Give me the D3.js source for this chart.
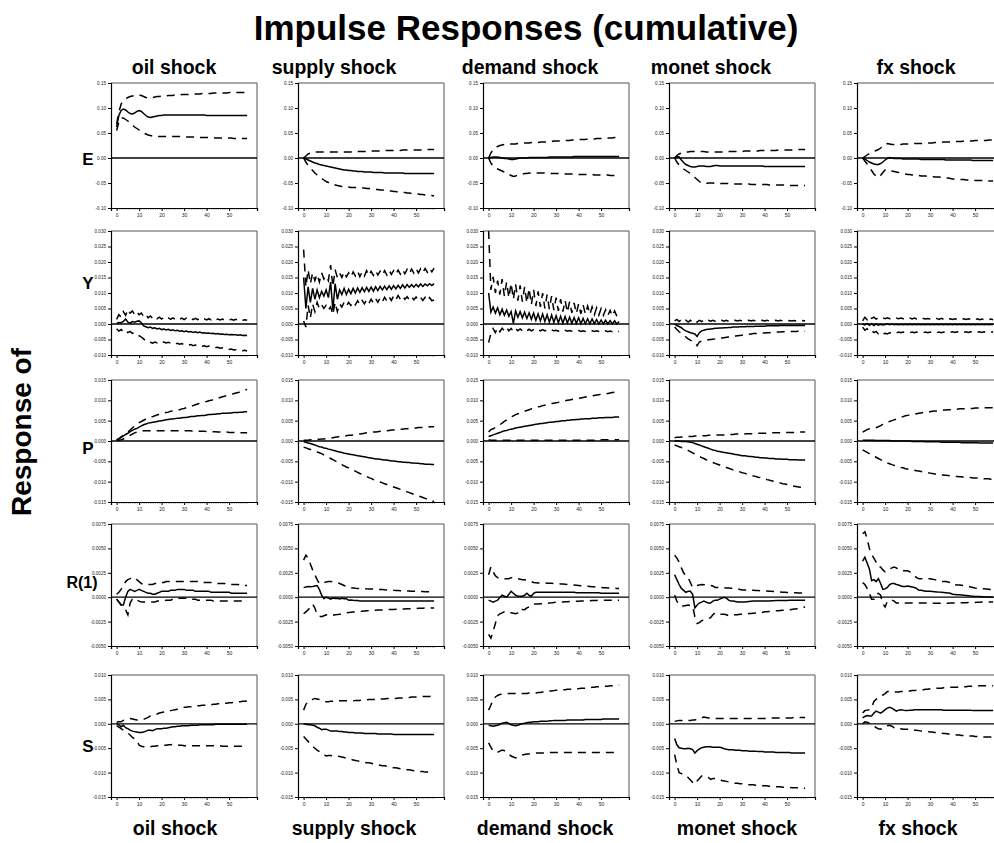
<!DOCTYPE html>
<html><head><meta charset="utf-8">
<script src="https://cdn.jsdelivr.net/npm/d3@7"></script>
<style>body{margin:0;background:#fff}</style>
</head><body>
<svg id="chart" width="994" height="843"></svg>
<script>
// ---------------- DATA ----------------
const shocks = ["oil shock","supply shock","demand shock","monet shock","fx shock"];
const variables = ["E","Y","P","R(1)","S"];
const title = "Impulse Responses (cumulative)";
const sideTitle = "Response of";
const xTickLabels = [0,10,20,30,40,50];
const yTicksE = [-0.10,-0.05,0.00,0.05,0.10,0.15];
const yTicksY = [-0.010,-0.005,0.000,0.005,0.010,0.015,0.020,0.025,0.030];
const yTicksP = [-0.015,-0.010,-0.005,0.000,0.005,0.010,0.015];
const yTicksR = [-0.0050,-0.0025,0.0000,0.0025,0.0050,0.0075];
const yTicksS = [-0.015,-0.010,-0.005,0.000,0.005,0.010];
// unit in which each row's series below are written
const rowUnit = [1e-3, 1e-4, 1e-4, 1e-5, 1e-4];

// Row E (x 0.001)
const E_oil_est = [62,85,95,98,96,92,89,88,90,93, 95,93,89,85,82,81,82,83,84,85, 85,86,86,86,86,86,86,86,86,86, 86,86,86,86,86,86,86,86,86,86, 85,85,85,85,85,85,85,85,85,85, 85,85,85,85,85,85,85,85,85];
const E_oil_hi = [68,92,108,114,118,121,123,124,125,126, 126,125,123,121,120,120,121,122,123,123, 124,124,124,125,125,125,126,126,126,127, 127,127,127,128,128,128,128,128,129,129, 129,129,129,130,130,130,130,130,130,130, 131,131,131,131,131,131,131,131,131];
const E_oil_lo = [55,72,80,80,77,74,70,66,62,59, 56,53,50,48,46,45,44,44,43,43, 43,43,43,43,43,43,43,43,43,42, 42,42,42,42,42,42,42,41,41,41, 41,41,41,41,40,40,40,40,40,40, 40,40,39,39,39,39,39,39,39];
const E_sup_est = [0,-2,-4,-6,-8,-10,-11,-13,-14,-15, -16,-17,-18,-19,-20,-21,-22,-23,-24,-24, -25,-25,-26,-26,-27,-27,-27,-28,-28,-28, -28,-29,-29,-29,-29,-29,-30,-30,-30,-30, -30,-30,-30,-30,-30,-31,-31,-31,-31,-31, -31,-31,-31,-31,-31,-31,-31,-31,-31];
const E_sup_hi = [0,4,8,10,11,12,12,12,12,12, 12,12,12,12,12,12,12,12,12,12, 12,12,13,13,13,13,13,13,13,14, 14,14,14,14,14,15,15,15,15,15, 15,15,15,15,16,16,16,16,16,16, 16,16,16,17,17,17,17,17,17];
const E_sup_lo = [0,-8,-15,-20,-25,-30,-34,-37,-41,-44, -47,-49,-51,-53,-54,-55,-56,-57,-57,-58, -58,-59,-59,-59,-59,-59,-60,-60,-61,-61, -62,-62,-63,-63,-64,-64,-65,-65,-66,-66, -67,-67,-68,-68,-69,-69,-70,-70,-71,-71, -72,-72,-73,-73,-74,-74,-75,-75,-76];
const E_dem_est = [0,1,2,2,2,1,0,-1,-1,-2, -3,-3,-2,-1,0,0,0,0,1,1, 1,1,1,1,1,1,1,2,2,2, 2,2,2,2,2,2,2,2,3,3, 3,3,3,3,3,3,3,3,3,3, 3,3,3,3,3,3,3,3,3];
const E_dem_hi = [0,10,17,21,23,25,26,27,27,28, 28,28,28,29,29,29,30,30,30,31, 31,31,31,32,32,32,33,33,33,34, 34,34,34,35,35,35,35,36,36,36, 37,37,37,37,38,38,38,38,39,39, 39,39,40,40,40,40,41,41,41];
const E_dem_lo = [0,-10,-16,-20,-22,-24,-26,-28,-30,-33, -35,-37,-36,-34,-33,-32,-31,-31,-30,-30, -30,-30,-30,-30,-30,-30,-31,-31,-31,-31, -31,-31,-31,-32,-32,-32,-32,-32,-32,-32, -33,-33,-33,-33,-33,-33,-33,-34,-34,-34, -34,-34,-34,-34,-35,-35,-35,-35,-35];
const E_mon_est = [0,3,2,-4,-9,-13,-15,-17,-18,-18, -17,-16,-16,-16,-17,-17,-17,-16,-15,-15, -16,-16,-16,-16,-16,-16,-16,-16,-16,-16, -16,-16,-16,-16,-16,-16,-16,-16,-16,-16, -17,-17,-17,-17,-17,-17,-17,-17,-17,-17, -17,-17,-17,-17,-17,-17,-17,-17,-17];
const E_mon_hi = [0,5,8,10,11,12,12,13,13,13, 13,13,13,13,12,12,12,12,12,12, 12,12,12,12,13,13,13,13,13,13, 13,14,14,14,14,14,14,14,15,15, 15,15,15,15,15,15,16,16,16,16, 16,16,16,16,17,17,17,17,17];
const E_mon_lo = [0,-8,-14,-18,-22,-25,-28,-31,-35,-39, -43,-47,-50,-51,-51,-50,-50,-50,-51,-51, -51,-51,-51,-51,-51,-52,-52,-52,-52,-52, -52,-52,-52,-52,-53,-53,-53,-53,-53,-53, -53,-53,-54,-54,-54,-54,-54,-54,-54,-54, -55,-55,-55,-55,-55,-55,-55,-55,-55];
const E_fx_est = [0,-2,-5,-8,-10,-12,-13,-13,-11,-8, -4,-1,1,0,-1,-1,-1,-1,-2,-2, -2,-2,-2,-2,-2,-2,-3,-3,-3,-3, -3,-3,-3,-3,-3,-3,-3,-4,-4,-4, -4,-4,-4,-4,-4,-4,-4,-4,-4,-5, -5,-5,-5,-5,-5,-5,-5,-5,-5];
const E_fx_hi = [0,3,6,9,11,13,15,17,20,24, 28,29,28,27,27,27,27,27,28,28, 28,28,28,29,29,29,29,29,30,30, 30,30,31,31,31,31,32,32,32,32, 33,33,33,33,33,34,34,34,34,34, 35,35,35,35,35,35,36,36,36];
const E_fx_lo = [0,-6,-12,-18,-25,-32,-36,-39,-35,-29, -24,-23,-25,-26,-27,-28,-29,-30,-31,-32, -33,-33,-34,-34,-35,-35,-36,-36,-36,-37, -37,-37,-38,-38,-38,-39,-39,-40,-40,-41, -42,-42,-42,-43,-43,-43,-44,-44,-44,-44, -45,-45,-45,-45,-45,-46,-46,-46,-46];

// Row Y (x 0.0001)
const Y_oil_est = [2,5,4,8,16,6,3,8,6,9, 10,4,-6,-9,-12,-10,-14,-12,-16,-14, -18,-16,-19,-17,-21,-19,-22,-20,-23,-22, -25,-23,-26,-24,-27,-25,-28,-26,-29,-28, -30,-29,-31,-30,-32,-31,-33,-32,-34,-33, -35,-34,-35,-35,-36,-35,-37,-36,-37];
const Y_oil_hi = [15,30,22,40,28,47,35,42,30,39, 30,35,25,32,20,26,18,24,17,22, 16,21,16,20,15,20,15,19,15,19, 14,19,14,18,14,18,14,18,14,17, 13,17,13,17,13,16,13,16,13,16, 13,15,12,15,12,15,12,14,12];
const Y_oil_lo = [-15,-23,-18,-25,-20,-28,-24,-30,-28,-35, -38,-42,-48,-56,-60,-59,-62,-58,-61,-57, -60,-58,-61,-59,-62,-60,-64,-62,-65,-63, -67,-65,-68,-66,-70,-68,-71,-69,-72,-70, -73,-71,-74,-73,-76,-75,-78,-77,-80,-79, -82,-81,-84,-83,-85,-84,-86,-85,-87];
const Y_sup_est = [150,50,120,70,115,80,110,85,105,90, 110,85,135,45,130,80,110,95,115,95, 112,98,115,100,116,102,117,104,118,105, 119,106,120,108,121,110,122,111,123,112, 124,113,125,115,126,116,127,118,127,119, 128,120,129,121,129,123,130,124,130];
const Y_sup_hi = [240,120,175,130,165,140,160,135,165,145, 155,140,190,120,175,150,165,150,168,152, 165,152,168,155,170,153,168,155,172,156, 170,157,172,158,170,158,172,158,173,160, 172,160,174,161,175,162,176,163,177,164, 178,165,178,166,179,167,180,168,180];
const Y_sup_lo = [10,-10,60,20,65,40,70,50,62,50, 60,45,55,30,70,40,65,55,70,58, 70,60,72,62,75,63,76,65,78,66, 80,68,82,70,84,72,86,74,88,76, 90,78,92,80,90,80,88,78,88,78, 87,77,86,76,86,75,85,75,78];
const Y_dem_est = [100,38,55,35,52,30,48,28,45,25, 40,2,42,22,40,20,38,18,36,15, 35,12,33,10,32,8,30,6,29,5, 27,4,25,3,24,3,22,2,21,2, 20,1,18,1,17,1,16,1,14,0, 13,0,12,0,11,0,10,0,8];
const Y_dem_hi = [300,110,152,100,140,95,145,90,135,85, 132,80,128,75,125,72,120,68,115,62, 110,58,105,55,100,50,95,48,90,45, 85,42,80,40,76,38,72,36,68,34, 65,33,62,32,58,31,55,30,52,29, 50,28,46,27,44,26,42,25,33];
const Y_dem_lo = [-60,-30,-15,-28,-12,-25,-14,-22,-12,-22, -14,-24,-15,-22,-16,-22,-17,-22,-17,-22, -18,-22,-18,-22,-18,-22,-19,-22,-19,-22, -20,-23,-20,-23,-20,-23,-21,-23,-21,-23, -21,-24,-22,-24,-22,-24,-22,-24,-22,-24, -22,-25,-22,-25,-23,-25,-23,-25,-24];
const Y_mon_est = [0,-5,-8,-12,-18,-22,-25,-28,-30,-32, -40,-28,-22,-20,-18,-17,-16,-15,-14,-14, -13,-13,-12,-12,-11,-11,-10,-10,-10,-9, -9,-9,-8,-8,-8,-8,-7,-7,-7,-7, -7,-6,-6,-6,-6,-6,-6,-5,-5,-5, -5,-5,-5,-5,-5,-5,-5,-5,-5];
const Y_mon_hi = [10,15,8,14,7,12,6,12,5,10, 6,12,8,13,9,12,9,12,9,12, 9,12,9,12,9,12,10,12,10,12, 10,12,10,12,10,12,10,12,10,12, 10,12,10,12,10,12,10,12,10,12, 10,11,10,11,10,11,10,11,10];
const Y_mon_lo = [-10,-18,-25,-30,-36,-42,-48,-52,-56,-60, -70,-58,-55,-53,-52,-51,-50,-49,-48,-47, -46,-45,-44,-43,-42,-41,-40,-39,-38,-37, -36,-35,-34,-33,-32,-31,-31,-30,-30,-29, -29,-28,-28,-27,-27,-26,-26,-26,-25,-25, -25,-24,-24,-24,-24,-23,-23,-23,-23];
const Y_fx_est = [0,-3,2,-4,1,-5,0,-4,-1,-3, -2,1,-2,0,-2,-1,-2,-1,-2,-1, -2,-1,-2,-1,-2,-1,-2,-1,-2,-1, -2,-1,-2,-1,-2,-1,-2,-1,-2,-1, -2,-1,-2,-1,-2,-1,-2,-1,-2,-1, -2,-1,-2,-1,-2,-1,-2,-1,-2];
const Y_fx_hi = [10,22,14,25,18,22,16,20,17,20, 17,20,17,19,17,19,17,19,17,19, 16,19,16,19,16,19,16,18,16,18, 16,18,16,18,15,18,15,18,15,17, 15,17,15,17,15,17,15,17,15,17, 14,17,14,16,14,16,14,16,14];
const Y_fx_lo = [-10,-20,-15,-24,-20,-28,-24,-32,-28,-33, -30,-32,-28,-30,-27,-29,-26,-28,-26,-28, -26,-28,-26,-28,-26,-28,-26,-28,-26,-28, -26,-28,-26,-28,-26,-28,-26,-28,-26,-27, -25,-27,-25,-27,-25,-27,-25,-27,-25,-27, -25,-27,-25,-27,-25,-27,-25,-27,-25];

// Row P (x 0.0001)
const P_oil_est = [2,5,9,12,16,19,23,26,29,31, 34,37,40,42,44,45,46,47,48,49, 50,51,52,53,54,54,55,56,56,57, 58,58,59,60,60,61,62,62,63,63, 64,65,65,66,66,67,67,68,68,68, 69,69,70,70,70,71,71,72,72];
const P_oil_hi = [3,6,10,14,18,22,27,32,37,41, 45,48,51,54,56,58,60,62,64,66, 67,69,70,71,73,74,75,76,77,79, 80,82,84,85,87,89,91,93,94,96, 97,99,100,102,104,105,107,109,110,112, 113,115,116,118,119,121,123,125,127];
const P_oil_lo = [1,2,3,5,8,11,14,17,20,22, 23,24,25,25,25,25,25,25,25,25, 25,25,25,25,25,25,25,25,25,25, 25,25,25,25,24,24,24,24,24,24, 23,23,23,23,23,22,22,22,22,22, 21,21,21,21,21,20,20,20,20];
const P_sup_est = [-2,-3,-5,-6,-8,-10,-12,-14,-15,-17, -18,-20,-21,-23,-24,-26,-27,-28,-30,-31, -32,-33,-34,-35,-36,-37,-38,-39,-40,-41, -42,-43,-44,-44,-45,-46,-47,-47,-48,-49, -49,-50,-51,-51,-52,-52,-53,-53,-54,-54, -55,-55,-56,-56,-57,-57,-57,-58,-58];
const P_sup_hi = [2,2,2,3,3,3,4,4,5,5, 6,7,7,8,9,10,11,11,12,13, 14,14,15,16,17,17,18,19,20,20, 21,22,22,23,24,24,25,25,26,27, 27,28,28,29,29,30,30,31,31,32, 32,33,33,33,34,34,35,35,35];
const P_sup_lo = [-15,-17,-19,-21,-23,-25,-27,-29,-31,-34, -37,-40,-43,-46,-49,-52,-55,-58,-61,-64, -66,-69,-72,-74,-77,-80,-82,-85,-87,-90, -92,-95,-97,-99,-101,-103,-105,-107,-109,-111, -113,-115,-117,-119,-121,-123,-125,-127,-129,-131, -133,-135,-137,-139,-141,-143,-145,-147,-149];
const P_dem_est = [11,13,15,17,19,21,23,25,26,28, 29,30,32,33,34,35,36,37,38,39, 40,41,42,43,43,44,45,46,46,47, 48,48,49,50,50,51,51,52,52,53, 53,54,54,55,55,55,56,56,56,57, 57,57,58,58,58,58,59,59,59];
const P_dem_hi = [22,28,30,33,36,40,44,48,52,56, 59,62,65,67,69,71,73,75,77,79, 81,82,84,85,87,88,89,91,92,93, 94,95,97,98,99,100,101,102,103,104, 105,106,107,108,109,110,111,112,113,114, 115,115,116,117,118,119,120,121,122];
const P_dem_lo = [3,2,2,2,2,2,2,2,2,2, 2,2,2,2,2,2,2,2,2,2, 2,2,2,2,2,2,2,2,2,2, 2,2,2,2,2,2,2,2,2,2, 2,2,2,2,2,2,2,2,3,3, 3,3,3,3,3,3,3,3,3];
const P_mon_est = [0,0,0,-1,-1,-1,-2,-3,-4,-6, -8,-10,-12,-14,-16,-18,-20,-22,-23,-25, -26,-27,-28,-29,-30,-31,-32,-33,-34,-35, -36,-36,-37,-38,-38,-39,-40,-40,-41,-41, -42,-42,-43,-43,-43,-44,-44,-44,-45,-45, -45,-46,-46,-46,-46,-47,-47,-47,-47];
const P_mon_hi = [8,9,9,10,10,10,11,11,11,12, 12,12,13,13,13,14,14,14,14,15, 15,15,15,16,16,16,16,17,17,17, 17,17,18,18,18,18,18,19,19,19, 19,19,20,20,20,20,20,20,21,21, 21,21,21,21,22,22,22,22,22];
const P_mon_lo = [-10,-12,-14,-16,-18,-20,-23,-26,-29,-32, -35,-38,-41,-43,-46,-48,-50,-53,-55,-57, -59,-61,-63,-65,-67,-69,-71,-72,-74,-76, -78,-79,-81,-83,-84,-86,-87,-89,-90,-92, -93,-95,-96,-98,-99,-101,-102,-103,-105,-106, -107,-109,-110,-111,-112,-113,-114,-115,-116];
const P_fx_est = [2,2,2,2,2,2,1,1,1,1, 1,1,1,0,0,0,0,0,0,0, 0,0,-1,-1,-1,-1,-1,-1,-2,-2, -2,-2,-2,-2,-2,-3,-3,-3,-3,-3, -3,-3,-3,-3,-4,-4,-4,-4,-4,-4, -4,-4,-5,-5,-5,-5,-5,-5,-5];
const P_fx_hi = [22,25,28,30,31,32,33,35,38,41, 44,46,48,50,52,54,56,58,60,62, 63,64,65,66,67,68,69,70,71,72, 72,73,74,74,75,75,76,76,77,77, 78,78,78,79,79,79,80,80,80,80, 81,81,81,81,82,82,82,82,82];
const P_fx_lo = [-22,-25,-28,-31,-34,-37,-40,-43,-46,-49, -52,-54,-56,-58,-60,-62,-63,-65,-66,-68, -69,-70,-71,-72,-73,-74,-75,-76,-77,-78, -79,-80,-81,-81,-82,-83,-84,-84,-85,-86, -86,-87,-87,-88,-88,-89,-89,-90,-90,-91, -91,-91,-92,-92,-93,-93,-93,-94,-94];

// Row R(1) (x 0.00001)
const R_oil_est = [-20,-50,-80,-80,0,60,80,70,60,70, 80,70,60,50,40,40,30,30,40,50, 60,60,60,60,70,70,70,80,80,80, 80,70,70,70,70,60,60,60,60,60, 60,60,50,50,50,50,50,50,50,50, 50,40,40,40,40,40,40,40,40];
const R_oil_hi = [30,50,80,120,160,180,190,200,200,180, 160,140,130,130,130,130,130,140,140,150, 150,150,160,160,160,160,160,160,160,160, 160,160,160,160,160,160,160,150,150,150, 150,150,150,150,140,140,140,140,140,130, 130,130,130,130,130,120,120,120,120];
const R_oil_lo = [-20,-50,-80,-110,-130,-180,-60,-20,-10,-30, -40,-50,-50,-50,-50,-50,-50,-50,-40,-40, -40,-40,-30,-30,-30,-20,-20,-20,-10,-10, -10,-10,-20,-20,-20,-20,-30,-30,-30,-30, -30,-30,-30,-40,-40,-40,-40,-40,-40,-40, -40,-40,-40,-40,-40,-40,-40,-40,-40];
const R_sup_est = [98,105,110,108,110,115,120,80,20,-15, 0,-10,-20,-8,-12,-10,-18,-12,-15,-15, -30,-28,-32,-35,-35,-38,-38,-40,-40,-40, -40,-40,-40,-40,-40,-40,-40,-40,-40,-40, -40,-40,-40,-40,-40,-40,-40,-40,-40,-40, -40,-40,-39,-39,-39,-38,-38,-38,-38];
const R_sup_hi = [380,430,400,340,280,230,180,140,145,150, 155,160,160,158,155,150,140,130,120,110, 100,98,95,92,90,90,88,88,86,85, 85,83,82,80,79,78,76,75,74,72, 70,69,68,67,66,65,64,63,62,61, 60,60,59,58,57,57,56,55,55];
const R_sup_lo = [-170,-150,-130,-100,-70,-110,-180,-195,-200,-190, -180,-185,-190,-185,-180,-178,-175,-170,-165,-160, -158,-155,-152,-150,-148,-146,-144,-142,-140,-138, -136,-134,-133,-132,-131,-130,-129,-128,-127,-126, -125,-124,-123,-122,-121,-120,-119,-118,-117,-116, -115,-114,-113,-112,-111,-111,-110,-110,-110];
const R_dem_est = [-30,-40,-50,-40,-30,0,20,10,0,30, 60,40,20,10,10,10,20,40,20,10, 40,50,50,50,50,50,50,50,50,50, 50,50,50,50,50,50,50,50,50,45, 45,45,45,45,45,45,45,45,45,45, 40,40,40,40,40,40,40,40,40];
const R_dem_hi = [230,310,260,220,200,190,190,190,190,190, 200,200,195,190,185,180,178,175,170,160, 150,148,146,145,145,145,144,143,142,140, 140,138,136,134,132,130,128,126,124,122, 120,118,116,114,112,110,108,106,104,102, 100,98,96,94,93,92,91,90,90];
const R_dem_lo = [-380,-420,-350,-270,-190,-170,-160,-150,-150,-160, -160,-165,-170,-160,-120,-125,-128,-110,-100,-90, -70,-70,-70,-68,-66,-65,-62,-60,-58,-55, -50,-50,-49,-48,-47,-46,-45,-44,-43,-42, -41,-40,-39,-38,-37,-36,-35,-34,-33,-32, -32,-31,-31,-30,-30,-30,-30,-30,-30];
const R_mon_est = [230,180,130,90,70,50,60,60,30,-110, -80,-60,-50,-40,-50,-60,-60,-40,-30,-30, -20,-10,0,-10,-30,-40,-40,-45,-50,-50, -50,-48,-46,-44,-42,-40,-40,-40,-40,-40, -40,-38,-38,-36,-36,-35,-35,-34,-34,-33, -33,-32,-32,-31,-31,-30,-30,-30,-30];
const R_mon_hi = [430,400,360,300,250,220,200,150,100,110, 120,125,130,128,125,122,120,115,100,100, 100,98,96,95,94,92,90,88,85,80, 75,74,73,72,71,70,69,68,67,66, 65,63,61,60,58,56,55,53,51,50, 49,48,47,46,45,44,43,42,40];
const R_mon_lo = [20,-40,-80,-90,-90,-85,-80,-85,-90,-200, -270,-260,-240,-235,-230,-220,-210,-180,-160,-170, -175,-175,-175,-180,-190,-190,-185,-180,-180,-175, -175,-172,-170,-168,-166,-164,-162,-160,-158,-156, -150,-148,-146,-144,-142,-140,-138,-136,-134,-132, -130,-128,-125,-122,-120,-115,-110,-105,-100];
const R_fx_est = [370,410,350,290,170,180,160,190,140,80, 85,100,130,140,140,130,125,115,110,110, 115,110,105,100,90,70,70,65,60,60, 60,58,56,54,52,50,48,46,44,40, 30,28,26,24,22,20,18,15,12,10, 8,7,6,5,4,3,3,3,3];
const R_fx_hi = [650,670,600,500,440,400,360,310,310,280, 260,270,290,300,310,300,280,275,270,270, 270,260,240,220,200,190,190,190,190,190, 190,185,180,175,170,160,160,160,155,150, 130,128,126,124,122,120,115,110,105,100, 95,92,90,88,86,84,82,80,80];
const R_fx_lo = [150,130,90,40,-20,-20,30,40,20,-70, -100,-40,-30,-30,-40,-60,-60,-50,-55,-60, -60,-60,-60,-60,-60,-60,-60,-60,-60,-60, -62,-62,-62,-62,-62,-62,-62,-62,-62,-60, -60,-60,-60,-60,-58,-58,-58,-55,-55,-55, -55,-52,-52,-50,-50,-50,-50,-50,-50];

// Row S (x 0.0001)
const S_oil_est = [0,-2,-6,-3,-8,-10,-13,-15,-16,-17, -18,-18,-17,-15,-13,-13,-14,-12,-10,-10, -10,-9,-9,-8,-7,-6,-6,-5,-5,-4, -4,-4,-4,-3,-3,-3,-3,-2,-2,-2, -2,-2,-2,-2,-1,-1,-1,-1,-1,-1, -1,-1,-1,-1,-1,-1,-1,-1,-1];
const S_oil_hi = [3,4,4,7,9,10,11,10,9,8, 8,8,9,11,13,16,18,19,20,22, 23,24,25,26,27,28,29,30,31,32, 34,34,35,35,36,36,37,37,38,38, 38,39,39,40,40,41,41,41,42,42, 43,43,44,44,45,45,46,46,47];
const S_oil_lo = [-4,-7,-10,-13,-16,-19,-23,-28,-31,-34, -44,-46,-47,-47,-47,-47,-46,-46,-45,-45, -44,-44,-44,-43,-43,-42,-43,-43,-44,-44, -45,-45,-45,-45,-45,-45,-45,-45,-45,-45, -45,-45,-45,-45,-45,-45,-45,-46,-46,-46, -46,-46,-46,-46,-46,-46,-46,-46,-46];
const S_sup_est = [0,-1,-2,-2,-3,-4,-7,-9,-12,-11, -11,-13,-15,-15,-15,-15,-16,-16,-17,-17, -18,-18,-18,-19,-19,-19,-19,-20,-20,-20, -20,-20,-20,-21,-21,-21,-21,-21,-21,-21, -22,-22,-22,-22,-22,-22,-22,-22,-22,-22, -22,-22,-22,-22,-22,-22,-22,-22,-22];
const S_sup_hi = [28,40,45,48,50,52,51,50,49,47, 45,45,46,46,46,47,47,47,47,47, 47,47,47,48,48,48,49,49,49,50, 50,50,50,51,51,51,51,52,52,52, 52,52,53,53,53,54,54,54,55,55, 55,55,55,56,56,56,56,57,57];
const S_sup_lo = [-26,-31,-36,-41,-46,-50,-54,-57,-61,-63, -66,-65,-65,-66,-66,-66,-67,-68,-69,-71, -72,-73,-74,-75,-76,-77,-78,-79,-80,-80, -81,-82,-83,-84,-85,-86,-86,-87,-88,-89, -90,-90,-91,-92,-92,-93,-94,-94,-95,-96, -97,-97,-98,-98,-99,-99,-100,-100,-100];
const S_dem_est = [-3,-4,-5,-4,-3,-1,1,2,3,1, -2,-3,-4,-3,-1,0,1,2,3,3, 4,4,4,5,5,5,5,6,6,7, 7,7,7,7,7,8,8,8,8,8, 8,8,8,9,9,9,9,9,9,9, 9,10,10,10,10,10,10,10,10];
const S_dem_hi = [28,38,50,55,58,60,61,62,62,62, 62,62,62,62,62,62,62,62,63,63, 63,63,64,64,65,65,66,67,67,68, 69,69,70,70,70,71,71,71,72,72, 72,73,73,73,74,74,75,75,76,76, 76,77,77,77,78,78,78,79,79];
const S_dem_lo = [-39,-48,-56,-57,-58,-56,-54,-55,-57,-62, -66,-68,-70,-68,-66,-64,-63,-62,-62,-61, -61,-60,-60,-60,-60,-60,-59,-59,-59,-59, -59,-59,-59,-59,-59,-59,-59,-59,-59,-59, -59,-59,-59,-59,-59,-59,-59,-59,-59,-59, -59,-59,-59,-59,-59,-59,-59,-59,-59];
const S_mon_est = [-30,-43,-49,-50,-51,-51,-50,-51,-53,-60, -55,-52,-49,-48,-47,-47,-47,-48,-48,-48, -48,-49,-51,-52,-53,-53,-53,-54,-54,-54, -55,-55,-55,-56,-56,-56,-56,-57,-57,-57, -58,-58,-58,-58,-58,-59,-59,-59,-59,-59, -59,-59,-60,-60,-60,-60,-60,-60,-60];
const S_mon_hi = [5,6,7,7,6,6,7,7,8,8, 9,10,12,14,13,12,12,11,11,11, 11,11,11,11,11,11,11,11,11,11, 11,11,11,11,11,11,11,11,11,11, 11,11,11,12,12,12,12,12,12,12, 12,12,12,13,13,13,13,13,13];
const S_mon_lo = [-63,-84,-100,-102,-104,-107,-110,-115,-120,-124, -117,-112,-107,-107,-107,-110,-114,-112,-112,-113, -114,-116,-117,-118,-119,-120,-121,-122,-122,-123, -123,-124,-124,-125,-125,-125,-126,-126,-126,-127, -127,-127,-128,-128,-128,-129,-129,-129,-130,-130, -130,-130,-131,-131,-131,-131,-132,-132,-132];
const S_fx_est = [12,15,17,16,16,22,26,24,22,25, 29,32,34,32,29,26,28,29,28,27, 27,28,28,29,29,29,29,29,29,29, 29,29,29,29,29,29,28,28,28,28, 28,28,28,28,28,28,28,28,28,27, 27,27,27,27,27,27,27,27,27];
const S_fx_hi = [22,27,28,29,32,46,50,54,57,59, 62,66,66,65,65,65,65,66,66,67, 67,67,68,68,69,69,70,70,71,71, 72,72,72,73,73,73,74,74,74,75, 75,75,75,76,76,76,76,77,77,77, 77,77,78,78,78,78,78,78,78];
const S_fx_lo = [0,4,3,1,0,-4,-8,-10,-11,-9, -6,-4,-3,-5,-8,-9,-10,-10,-11,-11, -11,-12,-12,-13,-13,-14,-15,-15,-16,-16, -17,-17,-18,-18,-19,-19,-20,-20,-21,-21, -22,-22,-23,-23,-24,-24,-24,-25,-25,-25, -26,-26,-26,-26,-27,-27,-27,-27,-27];

// ---------------- ASSEMBLY ----------------
const rowTicks = [yTicksE, yTicksY, yTicksP, yTicksR, yTicksS];
const rowFormat = [".2f", ".3f", ".3f", ".4f", ".3f"];
const panels = [
  [[E_oil_est,E_oil_lo,E_oil_hi],[E_sup_est,E_sup_lo,E_sup_hi],[E_dem_est,E_dem_lo,E_dem_hi],[E_mon_est,E_mon_lo,E_mon_hi],[E_fx_est,E_fx_lo,E_fx_hi]],
  [[Y_oil_est,Y_oil_lo,Y_oil_hi],[Y_sup_est,Y_sup_lo,Y_sup_hi],[Y_dem_est,Y_dem_lo,Y_dem_hi],[Y_mon_est,Y_mon_lo,Y_mon_hi],[Y_fx_est,Y_fx_lo,Y_fx_hi]],
  [[P_oil_est,P_oil_lo,P_oil_hi],[P_sup_est,P_sup_lo,P_sup_hi],[P_dem_est,P_dem_lo,P_dem_hi],[P_mon_est,P_mon_lo,P_mon_hi],[P_fx_est,P_fx_lo,P_fx_hi]],
  [[R_oil_est,R_oil_lo,R_oil_hi],[R_sup_est,R_sup_lo,R_sup_hi],[R_dem_est,R_dem_lo,R_dem_hi],[R_mon_est,R_mon_lo,R_mon_hi],[R_fx_est,R_fx_lo,R_fx_hi]],
  [[S_oil_est,S_oil_lo,S_oil_hi],[S_sup_est,S_sup_lo,S_sup_hi],[S_dem_est,S_dem_lo,S_dem_hi],[S_mon_est,S_mon_lo,S_mon_hi],[S_fx_est,S_fx_lo,S_fx_hi]]
];

// ---------------- LAYOUT ----------------
const FONT = "'Liberation Sans', Arial, Helvetica, sans-serif";
const colLeft = [111, 298, 483, 669, 857];
const panelW = 146;
const rowTop = [83, 231, 380, 524, 675];
const rowH = [125, 124, 122, 122, 122];
const xDomain = [-2.5, 62.4];
const topHeaderX = [174, 334, 530, 711, 916];
const botHeaderX = [175, 354, 545, 737, 918];
const rowLabelX = [88, 88, 88, 82, 88];
const rowLabelY = [165, 289, 454, 588, 752];

const svg = d3.select("#chart").style("font-family", FONT);
svg.append("rect").attr("width", 994).attr("height", 843).attr("fill", "#fff");

svg.append("text").attr("x", 526).attr("y", 40).attr("text-anchor", "middle")
  .attr("font-size", 35).attr("font-weight", "bold").text(title);

svg.append("text").attr("transform", "translate(31,432) rotate(-90)")
  .attr("text-anchor", "middle").attr("font-size", 28).attr("font-weight", "bold").text(sideTitle);

shocks.forEach((s, c) => {
  svg.append("text").attr("x", topHeaderX[c]).attr("y", 74).attr("text-anchor", "middle")
    .attr("font-size", 19.5).attr("font-weight", "bold").text(s);
  svg.append("text").attr("x", botHeaderX[c]).attr("y", 835).attr("text-anchor", "middle")
    .attr("font-size", 19.5).attr("font-weight", "bold").text(s);
});
variables.forEach((v, r) => {
  svg.append("text").attr("x", rowLabelX[r]).attr("y", rowLabelY[r]).attr("text-anchor", "middle")
    .attr("font-size", r === 3 ? 16 : 17).attr("font-weight", "bold").text(v);
});

const defs = svg.append("defs");

panels.forEach((row, r) => {
  row.forEach((series, c) => {
    const x0 = colLeft[c], y0 = rowTop[r], h = rowH[r];
    const ticks = rowTicks[r];
    const x = d3.scaleLinear().domain(xDomain).range([x0, x0 + panelW]);
    const y = d3.scaleLinear().domain([ticks[0], ticks[ticks.length - 1]]).range([y0 + h, y0]);
    const g = svg.append("g");
    const cid = "clip" + r + "_" + c;
    defs.append("clipPath").attr("id", cid).append("rect")
      .attr("x", x0).attr("y", y0 - 1).attr("width", panelW).attr("height", h + 2);

    g.append("path").attr("d", `M${x0},${y0}H${x0 + panelW}V${y0 + h}`)
      .attr("fill", "none").attr("stroke", "#555").attr("stroke-width", 1);

    const fmt = d3.format(rowFormat[r]);
    const yAxis = g.append("g").attr("transform", `translate(${x0},0)`)
      .call(d3.axisLeft(y).tickValues(ticks).tickSize(3).tickPadding(2)
        .tickFormat(d => fmt(d).replace("\u2212", "-")));
    yAxis.select(".domain").attr("stroke", "#000").attr("stroke-width", 1.2);
    yAxis.selectAll("text").attr("font-size", 4.6).attr("font-family", FONT).attr("fill", "#222");

    const xAxis = g.append("g").attr("transform", `translate(0,${y0 + h})`)
      .call(d3.axisBottom(x).tickValues(xTickLabels).tickSize(3).tickPadding(2).tickFormat(d3.format("d")));
    xAxis.select(".domain").attr("stroke", "#000").attr("stroke-width", 1.2);
    xAxis.selectAll("text").attr("font-size", 5).attr("font-family", FONT).attr("fill", "#222");
    const minor = g.append("g").attr("transform", `translate(0,${y0 + h})`)
      .call(d3.axisBottom(x).tickValues(d3.range(0, 59)).tickSize(1.5).tickFormat(""));
    minor.select(".domain").remove();
    minor.selectAll("line").attr("stroke-width", 0.6);

    g.append("line").attr("x1", x0).attr("x2", x0 + panelW)
      .attr("y1", y(0)).attr("y2", y(0)).attr("stroke", "#000").attr("stroke-width", 1.3);

    const unit = rowUnit[r];
    const line = d3.line().x((d, i) => x(i)).y(d => y(d * unit));
    const lg = g.append("g").attr("clip-path", `url(#${cid})`);
    const [est, lo, hi] = series;
    [lo, hi].forEach(arr => {
      lg.append("path").datum(arr).attr("d", line).attr("fill", "none")
        .attr("stroke", "#000").attr("stroke-width", 1.5).attr("stroke-dasharray", "8,6");
    });
    lg.append("path").datum(est).attr("d", line).attr("fill", "none")
      .attr("stroke", "#000").attr("stroke-width", 1.5);
  });
});
</script>
</body></html>
